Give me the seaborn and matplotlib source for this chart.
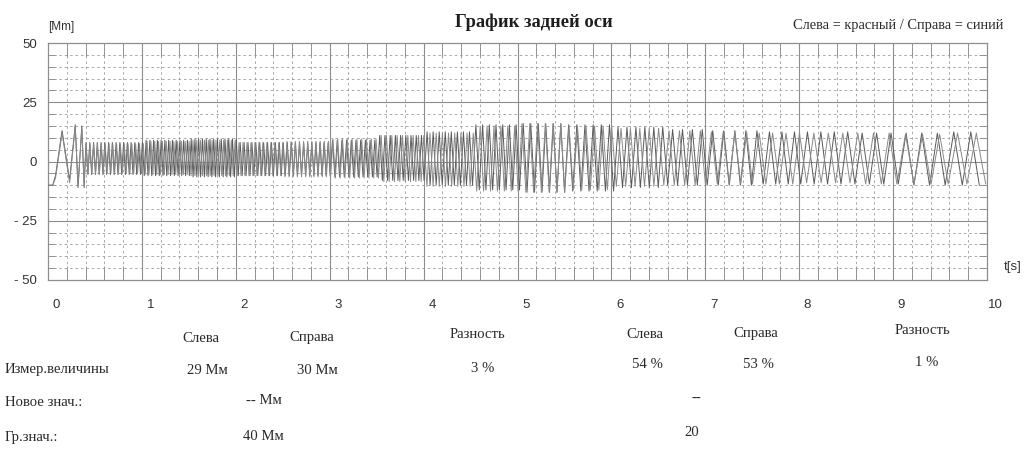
import numpy as np
import pandas as pd
import matplotlib
matplotlib.use("Agg")
import matplotlib.pyplot as plt
import seaborn as sns
from matplotlib.transforms import ScaledTranslation

# ---------------- data ----------------
# start-up transient (explicit extremes), seconds / Mm
trans_t = [0.00, 0.05, 0.08, 0.15, 0.23, 0.29, 0.32, 0.36, 0.385]
trans_left = [-10, -10, -6, 13, -8, 15.5, -11, 15, -11]
trans_right = [-10, -10, -7, 12, -9, 14.5, -10, 14, -10]

# segments of the sweep after the transient
seg_edges = [0.385, 1.0, 1.5, 2.0, 2.5, 3.0, 3.5, 4.0, 4.5, 5.0, 5.5,
             6.0, 6.5, 7.0, 7.5, 8.0, 8.5, 9.0, 9.5, 10.0]
# oscillation rate in each segment (cycles per second)
freq_left = [25, 25, 25, 24, 23, 20, 18, 15.5, 14, 12.5, 11.5, 10.5,
             9.5, 8.5, 7.5, 7, 6.5, 6, 5.5]
freq_right = [24.6, 24.6, 24.5, 23.6, 22.6, 19.6, 17.6, 15.2, 13.6, 12.1,
              11.0, 10.0, 9.0, 8.0, 7.0, 6.5, 6.0, 5.5, 5.0]
# peak / trough level in each segment (Mm)
upper_left = [8, 9, 9.5, 8, 8, 9, 11, 12.5, 15.5, 16, 15.5, 14.5, 13.5,
              13, 12.5, 12.5, 12, 12, 12.5]
lower_left = [-5.5, -6, -6.5, -6, -6, -6.5, -8, -10, -12, -13, -12.5, -11,
              -10, -10, -9.5, -9.5, -9.5, -10, -10]
upper_right = [7.5, 8.5, 9, 8, 8.5, 9.5, 11, 12, 15, 16, 15, 14, 13, 12.5,
               12, 12, 12, 11.5, 12]
lower_right = [-5, -5.5, -6, -6, -6.5, -7, -8.5, -10.5, -12.5, -13, -12,
               -10.5, -10, -9.5, -9.5, -9, -9.5, -9.5, -9.5]

y_ticks = [-50, -25, 0, 25, 50]
y_tick_labels = ["- 50", "- 25", "0", "25", "50"]
x_ticks = list(range(0, 11))
x_tick_labels = [str(v) for v in x_ticks]

title = "График задней оси"
legend_text = "Слева = красный / Справа = синий"

table_headers = ["Слева", "Справа", "Разность", "Слева", "Справа", "Разность"]
row_labels = ["Измер.величины", "Новое знач.:", "Гр.знач.:"]
measured = ["29 Мм", "30 Мм", "3 %", "54 %", "53 %", "1 %"]
new_vals = ["-- Мм", "--"]
limit_vals = ["40 Мм", "20"]


def build(tt, tv, freqs, ups, lows):
    ts = list(tt)
    vs = list(tv)
    t = tt[-1]
    up = True
    while True:
        i = np.searchsorted(seg_edges, t, side="right") - 1
        i = min(max(i, 0), len(freqs) - 1)
        t_next = t + 0.5 / freqs[i]
        if t_next > 10.0:
            break
        ts.append(t_next)
        vs.append(ups[i] if up else lows[i])
        up = not up
        t = t_next
    return ts, vs


lt, lv = build(trans_t, trans_left, freq_left, upper_left, lower_left)
rt, rv = build(trans_t, trans_right, freq_right, upper_right, lower_right)
df = pd.concat([
    pd.DataFrame({"t": lt, "v": lv, "side": "Слева"}),
    pd.DataFrame({"t": rt, "v": rv, "side": "Справа"}),
], ignore_index=True)

# ---------------- drawing ----------------
sns.set_style("white")
plt.rcParams["font.family"] = ["Liberation Sans", "DejaVu Sans"]

W, H = 1024, 451
fig = plt.figure(figsize=(W / 100, H / 100), dpi=100)
ax_left, ax_right, ax_top, ax_bot = 48, 987, 43, 280
ax = fig.add_axes([ax_left / W, 1 - ax_bot / H,
                   (ax_right - ax_left) / W, (ax_bot - ax_top) / H])

grid_c = "#8e8e8e"
# grid
for v in np.arange(-45, 50, 5):
    if v % 25 == 0:
        ax.axhline(v, color=grid_c, lw=0.8, zorder=1)
    else:
        ax.axhline(v, color="#9a9a9a", lw=0.6, ls=(0, (3, 3.5)), zorder=1)
for v in np.arange(0.2, 10, 0.2):
    if abs(v - round(v)) < 1e-6:
        ax.axvline(v, color=grid_c, lw=0.8, zorder=1)
    else:
        ax.axvline(v, color="#9a9a9a", lw=0.6, ls=(0, (3, 3.5)), zorder=1)

sns.lineplot(data=df, x="t", y="v", hue="side", estimator=None, sort=False,
             palette={"Слева": "#5a5a5a", "Справа": "#8a8a8a"},
             lw=0.7, legend=False, ax=ax, zorder=3)

ax.set_xlim(0, 10)
ax.set_ylim(-50, 50)
ax.set_xlabel("")
ax.set_ylabel("")
for s in ax.spines.values():
    s.set_color(grid_c)
    s.set_linewidth(0.9)

ax.set_yticks(y_ticks)
ax.set_yticklabels(y_tick_labels)
ax.set_xticks(x_ticks)
ax.set_xticklabels(x_tick_labels)
ax.set_xticks(np.arange(0.2, 10, 0.2), minor=True)
ax.set_yticks(np.arange(-45, 50, 5), minor=True)
ax.tick_params(axis="both", which="major", length=0, labelsize=9.5,
               labelcolor="#333333")
ax.tick_params(axis="y", which="major", pad=8)
ax.tick_params(axis="x", which="major", pad=14)
ax.tick_params(axis="x", which="minor", direction="in", length=10,
               top=True, bottom=True, color=grid_c, width=0.7)
ax.tick_params(axis="y", which="minor", direction="in", length=6,
               left=True, right=True, color=grid_c, width=0.7)
for lab in ax.get_xticklabels():
    lab.set_transform(lab.get_transform() +
                      ScaledTranslation(6 / 72, 0, fig.dpi_scale_trans))


def ftext(x, y, s, **kw):
    fig.text(x / W, 1 - y / H, s, **kw)


serif = ["Liberation Serif", "DejaVu Serif"]
tc = "#2a2a2a"
ftext(48, 27, "[Mm]", fontsize=8.5, color="#333333", va="center", ha="left")
ftext(1004, 267, "t[s]", fontsize=9.5, color="#333333", va="center", ha="left")
ftext(534, 22, title, fontsize=13.3, fontweight="bold", family=serif,
      color="#1e1e1e", ha="center", va="center")
ftext(1003, 25, legend_text, fontsize=10.4, family=serif, color=tc,
      ha="right", va="center")

# bottom table
fs = 10.6
head_x = [201, 312, 477, 645, 756, 922]
head_y = [338, 338, 335, 334, 333, 331]
for x, y, s in zip(head_x, head_y, table_headers):
    ftext(x, y, s, fontsize=fs, family=serif, color=tc, ha="center", va="center")

row_y = [370, 402, 438]
for y, s in zip(row_y, row_labels):
    ftext(5, y, s, fontsize=fs, family=serif, color=tc, ha="left", va="center")

meas_x = [207, 317, 483, 647, 758, 927]
meas_y = [370, 370, 368, 365, 365, 363]
for x, y, s in zip(meas_x, meas_y, measured):
    ftext(x, y, s, fontsize=fs, family=serif, color=tc, ha="center", va="center")

ftext(264, 400, new_vals[0], fontsize=fs, family=serif, color=tc,
      ha="center", va="center")
ftext(696, 398, new_vals[1], fontsize=fs, family=serif, color=tc,
      ha="center", va="center")
ftext(263, 437, limit_vals[0], fontsize=fs, family=serif, color=tc,
      ha="center", va="center")
ftext(692, 432, limit_vals[1], fontsize=fs, family=serif, color=tc,
      ha="center", va="center")

fig.savefig("out.png", dpi=100)
